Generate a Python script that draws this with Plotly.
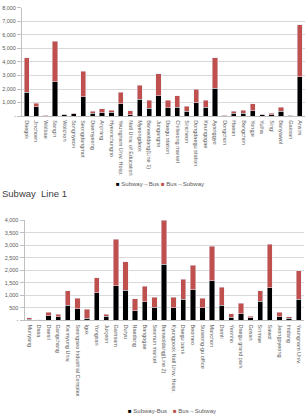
import plotly.graph_objects as go

# ---- Top chart (Line 1 stations) ----
line1_stations = ["Daegok", "Jinchoen", "Wolbae", "Sangin", "Wolchon", "Songhyeon",
                  "Seongdangmot", "Daemyeong", "Anjirang", "Hyeonchungno",
                  "Yeungnam Univ. Hosp.", "Natl Univ. of Education", "Myeongdeok",
                  "Banwoldang(Line 1)", "Jungangno", "Daegu station", "Chilseong market",
                  "Sincheon", "Dongdaegu station", "Keungogae", "Ayanggyo", "Dongchon",
                  "Haean", "Bangchon", "Yongje", "Yulha", "Singi", "Banyawol", "Gaksan", "Ansim"]
line1_sub_bus = [1750, 700, 40, 2550, 120, 180, 1440, 220, 250, 290,
                 900, 100, 1240, 585, 1510, 620, 635, 340, 1000, 635,
                 2045, 40, 200, 220, 390, 110, 100, 340, 50, 2900]
line1_bus_sub = [2550, 250, 10, 2975, 30, 30, 1870, 130, 290, 150,
                 850, 290, 1050, 585, 1605, 550, 855, 370, 970, 535,
                 2255, 5, 170, 220, 520, 40, 120, 310, 5, 3870]

# ---- Bottom chart: Subway Line 1 title (Line 2 stations) ----
line2_stations = ["Munyang", "Dasa", "Daesil", "Gangchang", "Keimyung Univ.",
                  "Seongseo Industrial Complex", "Igok", "Yongsan", "Jukjeon", "Gamsam",
                  "Duryu", "Naedang", "Bangogae", "Seomun market", "Banwoldang(Line 2)",
                  "Kyungpook Natl Univ. Hosp.", "Daegu bank", "Beomeo", "Suseong-gu office",
                  "Manchon", "Damti", "Yeonho", "Daegu grand park", "Gosan", "Sinmae",
                  "Sawol", "Jeongpyeong", "Imdang", "Yeungnam Univ."]
line2_sub_bus = [40, 15, 180, 140, 600, 470, 90, 1100, 160, 1385,
                 1200, 390, 750, 520, 2235, 500, 835, 1215, 510,
                 1580, 600, 130, 275, 110, 760, 1295, 145, 80, 835]
line2_bus_sub = [70, 5, 150, 100, 590, 420, 350, 610, 90, 1865,
                 1140, 470, 610, 410, 1765, 430, 815, 995, 380,
                 1375, 720, 145, 405, 60, 430, 1750, 180, 60, 1140]

top_ticks = [0, 1000, 2000, 3000, 4000, 5000, 6000, 7000, 8000]
top_tick_text = ["-", "1,000", "2,000", "3,000", "4,000", "5,000", "6,000", "7,000", "8,000"]
bot_ticks = [0, 500, 1000, 1500, 2000, 2500, 3000, 3500, 4000]
bot_tick_text = ["-", "500", "1,000", "1,500", "2,000", "2,500", "3,000", "3,500", "4,000"]

BLACK = "#000000"
RED = "#C0504D"
FONT = "Liberation Sans"
TXT = "#595959"
H = 418
W = 306

fig = go.Figure()
fig.add_trace(go.Bar(x=line1_stations, y=line1_sub_bus, name="Subway→Bus",
                     marker_color=BLACK, xaxis="x", yaxis="y", showlegend=False))
fig.add_trace(go.Bar(x=line1_stations, y=line1_bus_sub, name="Bus→Subway",
                     marker_color=RED, xaxis="x", yaxis="y", showlegend=False))
fig.add_trace(go.Bar(x=line2_stations, y=line2_sub_bus, name="Subway-Bus",
                     marker_color=BLACK, xaxis="x2", yaxis="y2", showlegend=False))
fig.add_trace(go.Bar(x=line2_stations, y=line2_bus_sub, name="Bus→Subway",
                     marker_color=RED, xaxis="x2", yaxis="y2", showlegend=False))

axfont = dict(family=FONT, size=5.5, color=TXT)
xcommon = dict(type="category", tickangle=90, tickfont=axfont, showgrid=False,
               showline=True, linecolor="#BFBFBF", linewidth=1, ticks="", ticklen=0,
               ticklabelstandoff=2)
ycommon = dict(tickfont=axfont, showgrid=True, gridcolor="#D9D9D9", gridwidth=1,
               showline=True, linecolor="#BFBFBF", linewidth=1, ticks="outside",
               ticklen=4, tickcolor="#BFBFBF", zeroline=False)

fig.update_layout(
    width=W, height=H,
    margin=dict(l=0, r=0, t=0, b=0),
    paper_bgcolor="white", plot_bgcolor="white",
    barmode="stack", bargap=0.45,
    xaxis=dict(domain=[22 / W, 304.5 / W], anchor="y", **xcommon),
    yaxis=dict(domain=[1 - 114.7 / H, 1 - 5 / H], anchor="x", range=[0, 8000],
               tickvals=top_ticks, ticktext=top_tick_text, **ycommon),
    xaxis2=dict(domain=[24.5 / W, 303.5 / W], anchor="y2", **xcommon),
    yaxis2=dict(domain=[1 - 322 / H, 1 - 220.5 / H], anchor="x2", range=[0, 4000],
                tickvals=bot_ticks, ticktext=bot_tick_text, **ycommon),
    showlegend=False,
)

legfont = dict(family=FONT, size=6, color=TXT)


def legend(y_px, x_px, sub_label):
    fig.add_annotation(xref="paper", yref="paper", x=x_px / W, y=1 - y_px / H,
                       xanchor="left", yanchor="middle", showarrow=False, font=legfont,
                       text=f'<span style="color:{BLACK}">■</span> {sub_label}')
    fig.add_annotation(xref="paper", yref="paper", x=(x_px + 45) / W, y=1 - y_px / H,
                       xanchor="left", yanchor="middle", showarrow=False, font=legfont,
                       text=f'<span style="color:{RED}">■</span> Bus→Subway')


legend(183.5, 114, "Subway→Bus")
legend(414, 126, "Subway-Bus")

fig.add_annotation(xref="paper", yref="paper", x=0, y=1 - 193 / H, xanchor="left",
                   yanchor="middle", showarrow=False, text="Subway  Line 1",
                   font=dict(family=FONT, size=9.5, color="#404040"))

fig.write_html("out.html")
